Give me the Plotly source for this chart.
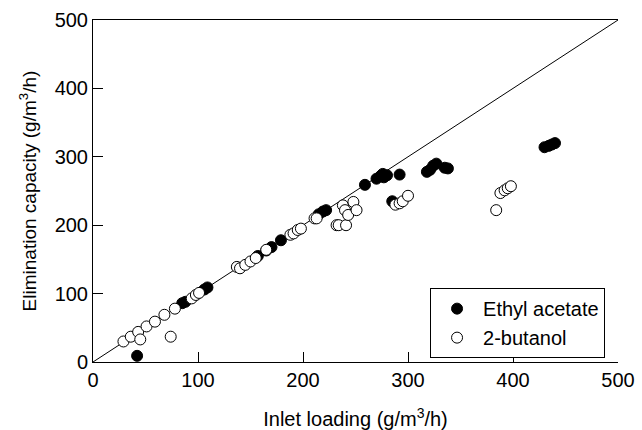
import plotly.graph_objects as go

# Ethyl acetate (filled circles)
ea_x = [42, 85, 88, 106, 109, 157, 165, 170, 179, 215, 219, 222, 259, 270, 274, 277,
        280, 276, 285, 292, 318, 321, 324, 327, 335, 338, 430, 434, 437, 440]
ea_y = [9, 86, 88, 106, 109, 155, 163, 168, 178, 216, 220, 222, 259, 268, 272, 270,
        273, 275, 235, 274, 278, 281, 287, 290, 284, 283, 314, 316, 318, 320]

# 2-butanol (open circles)
bu_x = [29, 36, 43, 45, 51, 59, 68, 74, 78, 94, 98, 101, 137, 140, 145, 150, 155, 165,
        188, 191, 195, 198, 211, 213, 232, 234, 238, 240, 241, 243, 248, 251,
        288, 292, 295, 300, 384, 388, 392, 395, 398]
bu_y = [30, 37, 44, 33, 52, 59, 69, 37, 78, 93, 98, 101, 139, 137, 142, 147, 152, 164,
        186, 188, 193, 195, 210, 210, 200, 200, 229, 222, 200, 215, 234, 222,
        230, 232, 235, 243, 222, 247, 251, 254, 257]

# 1:1 line
parity = [0, 500]

x_ticks = [0, 100, 200, 300, 400, 500]
y_ticks = [0, 100, 200, 300, 400, 500]

FONT = "Liberation Sans, Arial, sans-serif"

fig = go.Figure()
fig.add_trace(go.Scatter(x=parity, y=parity, mode="lines",
                         line=dict(color="black", width=1), showlegend=False,
                         hoverinfo="skip"))
fig.add_trace(go.Scatter(x=ea_x, y=ea_y, mode="markers", name="Ethyl acetate",
                         marker=dict(symbol="circle", size=11, color="black",
                                     line=dict(color="black", width=1))))
fig.add_trace(go.Scatter(x=bu_x, y=bu_y, mode="markers", name="2-butanol",
                         marker=dict(symbol="circle", size=11, color="white",
                                     line=dict(color="black", width=1))))

fig.update_layout(
    width=642, height=430,
    margin=dict(l=93, r=24, t=20, b=68),
    paper_bgcolor="white", plot_bgcolor="white",
    font=dict(family=FONT, size=20, color="black"),
    showlegend=True,
    legend=dict(x=0.642, y=0.216, xanchor="left", yanchor="top",
                bgcolor="white", bordercolor="black", borderwidth=1,
                font=dict(size=20), tracegroupgap=0, itemwidth=42),
    xaxis=dict(range=[0, 500], tickvals=x_ticks, ticks="inside", ticklen=10,
               tickcolor="black", showline=True, linecolor="black", linewidth=1,
               mirror=True, showgrid=False, zeroline=False, automargin=False,
               title=dict(text="Inlet loading (g/m<sup>3</sup>/h)",
                          font=dict(size=20), standoff=24)),
    yaxis=dict(range=[0, 500], tickvals=y_ticks, ticks="inside", ticklen=10,
               tickcolor="black", showline=True, linecolor="black", linewidth=1,
               showgrid=False, zeroline=False, automargin=False,
               title=dict(text="Elimination capacity (g/m<sup>3</sup>/h)",
                          font=dict(size=19), standoff=12)),
)

fig.write_html("out.html")
